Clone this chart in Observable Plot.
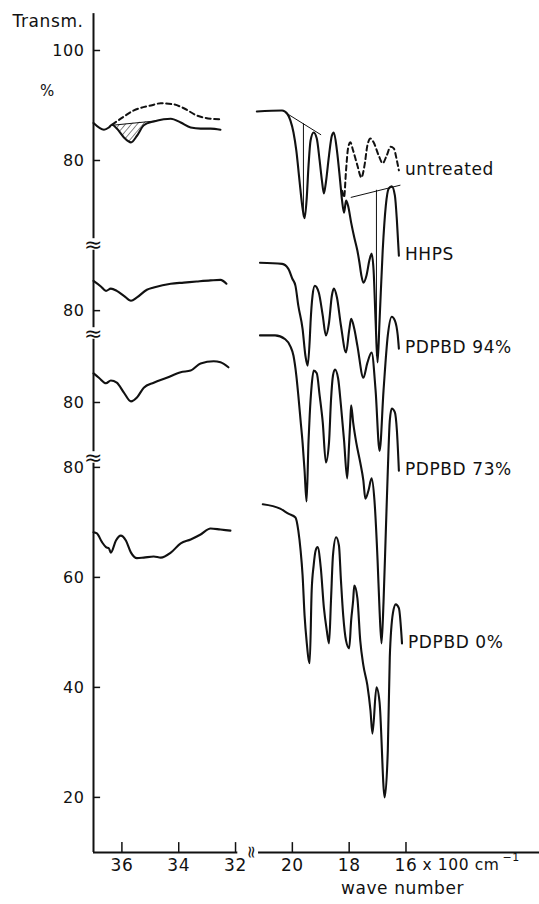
<!DOCTYPE html>
<html>
<head>
<meta charset="utf-8">
<script src="https://cdn.jsdelivr.net/npm/d3@7"></script>
<script src="https://cdn.jsdelivr.net/npm/@observablehq/plot@0.6"></script>
<style>
  body { margin: 0; background: #fff; }
  #chart svg { display: block; }
  #chart text { letter-spacing: 0.6px; }
</style>
</head>
<body>
<div id="chart"></div>
<script>
// ---------- data: [wave number (x100 cm-1), transmission %] ----------
// left panel (3700-3200 cm-1)
const hhpsLeft = [[37.0,86.8],[36.63,85.6],[36.46,86.0],[36.35,86.5],[36.18,85.8],[35.93,84.2],[35.68,83.3],[35.47,84.5],[35.23,86.4],[34.88,87.1],[34.53,87.5],[34.28,87.6],[33.93,86.9],[33.58,86.0],[33.23,85.8],[32.88,85.8],[32.53,85.6]];
const untreatedLeft = [[36.35,86.5],[36.04,87.6],[35.58,89.1],[34.98,90.0],[34.63,90.4],[34.18,90.2],[33.82,89.5],[33.37,88.2],[32.88,87.6],[32.49,87.5]];
const pd94Left = [[37.0,85.4],[36.74,84.4],[36.56,83.6],[36.39,84.0],[36.18,83.6],[35.93,82.7],[35.68,81.8],[35.47,82.4],[35.12,83.8],[34.88,84.2],[34.28,84.9],[33.82,85.1],[33.37,85.3],[32.88,85.5],[32.53,85.6],[32.32,84.9]];
const pd73Left = [[37.0,85.3],[36.81,84.5],[36.56,83.5],[36.39,84.0],[36.18,83.6],[35.93,81.8],[35.68,80.2],[35.47,80.9],[35.23,82.7],[34.88,83.6],[34.42,84.5],[33.93,85.5],[33.58,85.8],[33.23,87.1],[32.77,87.5],[32.53,87.3],[32.25,86.4]];
const pd0Left = [[37.0,68.2],[36.88,68.0],[36.7,66.4],[36.56,65.5],[36.46,65.3],[36.39,64.5],[36.21,66.7],[36.04,67.6],[35.86,66.7],[35.68,64.5],[35.47,63.5],[35.23,63.6],[34.88,63.8],[34.63,63.6],[34.28,64.5],[33.93,66.2],[33.58,66.9],[33.23,67.8],[32.88,68.9],[32.53,68.7],[32.18,68.5]];
// hatched band (wave number, curve value, baseline value)
const hatchBand = [[36.35,86.5,86.5],[36.18,85.8,86.5],[35.93,84.2,86.6],[35.68,83.3,86.7],[35.47,84.5,86.9],[35.23,86.4,87.0],[34.95,87.05,87.05]];
const hatchBaseline = [[36.35,86.4],[34.8,87.2]];

// right panel (2100-1600 cm-1)
const hhpsRight = [[21.25,88.9],[20.36,89.1],[20.18,88.5],[20.07,87.3],[19.96,85.1],[19.86,81.8],[19.75,76.4],[19.64,71.3],[19.57,69.5],[19.5,72.7],[19.43,79.1],[19.36,83.6],[19.25,85.1],[19.14,84.0],[19.04,80.0],[18.96,76.4],[18.89,74.0],[18.82,76.0],[18.71,80.9],[18.61,84.5],[18.54,85.1],[18.43,81.8],[18.32,76.4],[18.25,72.7],[18.18,70.5],[18.11,72.7],[18.04,71.8],[17.93,68.7],[17.82,66.0],[17.71,63.6],[17.64,61.5],[17.57,59.1],[17.5,57.8],[17.39,59.1],[17.29,61.8],[17.21,63.1],[17.14,60.0],[17.07,50.9],[17.0,43.3],[16.93,50.9],[16.82,63.6],[16.71,71.8],[16.61,74.9],[16.5,75.3],[16.39,73.6],[16.32,69.1],[16.25,62.7]];
const untreatedRight = [[18.25,74.5],[18.18,73.3],[18.11,78.2],[18.04,82.2],[17.96,83.3],[17.86,81.8],[17.71,79.1],[17.57,76.9],[17.46,79.1],[17.36,82.7],[17.25,84.0],[17.14,83.3],[16.96,80.9],[16.82,79.5],[16.68,80.9],[16.54,82.5],[16.43,82.2],[16.32,80.0],[16.25,78.2]];
const pd94Right = [[21.14,88.7],[20.36,88.5],[20.14,87.6],[20.0,85.8],[19.89,84.5],[19.79,80.9],[19.64,76.7],[19.54,71.8],[19.46,70.0],[19.39,74.5],[19.36,77.8],[19.29,82.7],[19.21,84.5],[19.07,83.3],[18.93,79.1],[18.82,75.5],[18.71,77.8],[18.61,82.7],[18.54,84.0],[18.43,82.4],[18.29,77.3],[18.11,72.4],[18.0,76.4],[17.93,78.5],[17.82,76.7],[17.71,73.6],[17.5,67.8],[17.36,70.5],[17.21,72.4],[17.07,65.5],[16.93,54.5],[16.79,65.5],[16.64,75.5],[16.5,78.9],[16.39,78.2],[16.29,75.5],[16.25,73.1]];
const pd73Right = [[21.14,92.2],[20.61,92.2],[20.25,91.5],[20.07,90.2],[19.96,88.5],[19.86,84.9],[19.79,81.3],[19.71,76.7],[19.64,72.7],[19.57,67.6],[19.5,62.0],[19.43,73.1],[19.39,77.6],[19.32,83.1],[19.25,85.8],[19.14,85.3],[19.04,81.3],[18.93,76.4],[18.82,69.1],[18.71,72.7],[18.64,80.4],[18.57,84.9],[18.5,86.0],[18.39,84.4],[18.29,79.5],[18.18,73.1],[18.07,66.2],[18.0,72.7],[17.96,76.7],[17.93,79.5],[17.86,76.4],[17.75,72.7],[17.61,69.1],[17.5,65.8],[17.43,62.5],[17.32,64.0],[17.21,66.2],[17.11,62.2],[17.0,51.3],[16.93,42.2],[16.86,36.2],[16.79,43.8],[16.71,56.5],[16.64,67.6],[16.57,76.7],[16.5,78.9],[16.39,78.2],[16.32,74.9],[16.25,67.6]];
const pd0Right = [[21.04,73.3],[20.43,72.5],[20.14,71.6],[19.89,70.9],[19.79,68.5],[19.71,64.9],[19.64,60.4],[19.57,53.1],[19.5,48.5],[19.39,44.4],[19.32,57.6],[19.25,62.2],[19.18,64.9],[19.11,65.5],[19.0,61.8],[18.89,54.5],[18.79,50.4],[18.71,48.0],[18.64,55.8],[18.57,64.0],[18.46,67.3],[18.36,65.8],[18.29,59.5],[18.21,53.1],[18.11,48.5],[18.0,47.1],[17.93,52.2],[17.86,55.8],[17.82,58.5],[17.71,56.2],[17.61,48.5],[17.5,44.0],[17.36,40.4],[17.25,35.8],[17.18,31.6],[17.04,40.0],[16.93,37.3],[16.75,20.0],[16.64,28.5],[16.57,45.5],[16.46,53.5],[16.36,55.1],[16.25,54.4],[16.14,48.0]];
// baseline construction lines on the untreated / HHPS spectrum
const baseLine1 = [[20.18,88.5],[19.0,84.7]];
const dropLine1 = [[19.61,86.7],[19.61,69.8]];
const baseLine2 = [[17.93,73.3],[16.21,75.5]];
const dropLine2 = [[17.04,74.6],[17.04,44.5]];

// spectrum names and the y-axis section each one is drawn in
const spectrumNames = ["untreated", "HHPS", "PDPBD 94%", "PDPBD 73%", "PDPBD 0%"];
const spectrumSection = [0, 0, 1, 2, 3];
const sectionOffset = [0, -27.3, -44.0, -55.8];   // stacked sections (break in axis)

// axis ticks
const yTickValues = [100, 80, 80, 80, 80, 60, 40, 20];
const yTickSection = [0, 0, 1, 2, 3, 3, 3, 3];
const xTickValues = [36, 34, 32, 20, 18, 16];
const yBreaks = [64.73, 48.55, 26.0];   // display positions of axis breaks
const leftAxisRange = [37.0, 31.92];
const rightAxisRange = [21.19, 10.0];

// ---------- build ----------
const toU = w => (w > 26 ? 37 - w : 27 - w);   // broken wave-number axis
const yMin = -45.82, yMax = 109.09, xMax = 15.7;
const clampU = u => Math.min(u, xMax);

function rows(pts, id, sec) {
  return pts.map(([w, t]) => ({id, u: toU(w), t: t + sectionOffset[sec]}));
}
const solidRows = [
  ...rows(hhpsLeft, "hL", 0), ...rows(hhpsRight, "hR", 0),
  ...rows(pd94Left, "94L", 1), ...rows(pd94Right, "94R", 1),
  ...rows(pd73Left, "73L", 2), ...rows(pd73Right, "73R", 2),
  ...rows(pd0Left, "0L", 3), ...rows(pd0Right, "0R", 3)
];
const dashRows = [...rows(untreatedLeft, "uL", 0), ...rows(untreatedRight, "uR", 0)];
const annoRows = [
  ...rows(hatchBaseline, "b0", 0), ...rows(baseLine1, "b1", 0), ...rows(dropLine1, "d1", 0),
  ...rows(baseLine2, "b2", 0), ...rows(dropLine2, "d2", 0)
];
const hatchRows = hatchBand.map(([w, lo, hi]) => ({u: toU(w), low: lo, top: hi}));

const rightEnds = [untreatedRight, hhpsRight, pd94Right, pd73Right, pd0Right];
const labelRows = spectrumNames.map((name, i) => {
  const [w, t] = rightEnds[i][rightEnds[i].length - 1];
  return {name, u: toU(w), t: t + sectionOffset[spectrumSection[i]]};
});

const yTickRows = yTickValues.map((v, i) => ({t: v + sectionOffset[yTickSection[i]], label: String(v)}));
const xTickRows = xTickValues.map(w => ({u: toU(w), label: String(w)}));

const axisTop = 106.7, gap = 1.05;
const yStops = [axisTop, ...yBreaks.flatMap(b => [b + gap, b - gap]), yMin];
const ySegRows = [];
for (let i = 0; i < yStops.length; i += 2) ySegRows.push({a: yStops[i], b: yStops[i + 1]});
const xSegRows = [
  {a: toU(leftAxisRange[0]), b: toU(leftAxisRange[1])},
  {a: toU(rightAxisRange[0]), b: clampU(toU(rightAxisRange[1]))}
];
const xBreakU = (toU(leftAxisRange[1]) + toU(rightAxisRange[0])) / 2 + 0.12;

const ink = "#111";
const plot = Plot.plot({
  width: 539,
  height: 904,
  marginLeft: 93,
  marginRight: 0,
  marginTop: 0,
  marginBottom: 52,
  x: {domain: [0, xMax], axis: null},
  y: {domain: [yMin, yMax], axis: null},
  style: {fontFamily: "DejaVu Sans", background: "white", color: ink},
  marks: [
    Plot.areaY(hatchRows, {x: "u", y1: "low", y2: "top", fill: "url(#hatch)", curve: "monotone-x"}),
    Plot.line(annoRows, {x: "u", y: "t", z: "id", stroke: ink, strokeWidth: 1, curve: "linear"}),
    Plot.line(dashRows, {x: "u", y: "t", z: "id", stroke: ink, strokeWidth: 2, strokeDasharray: "5,3.5", curve: "monotone-x"}),
    Plot.line(solidRows, {x: "u", y: "t", z: "id", stroke: ink, strokeWidth: 2.1, curve: "monotone-x", strokeLinejoin: "round"}),
    // y axis
    Plot.ruleX(ySegRows, {x: () => 0, y1: "a", y2: "b", stroke: ink, strokeWidth: 2}),
    Plot.ruleY(yTickRows, {y: "t", x1: () => 0, x2: () => 0.25, stroke: ink, strokeWidth: 1.5}),
    Plot.text(yTickRows, {x: () => 0, y: "t", text: "label", textAnchor: "end", dx: -9, fontSize: 16, fill: ink}),
    Plot.text(yBreaks, {x: () => 0, y: d => d, text: () => "≈", fontSize: 22, fill: ink}),
    // x axis
    Plot.ruleY(xSegRows, {y: () => yMin, x1: "a", x2: "b", stroke: ink, strokeWidth: 2}),
    Plot.ruleX(xTickRows, {x: "u", y1: () => yMin, y2: () => yMin + 1.8, stroke: ink, strokeWidth: 1.5}),
    Plot.text(xTickRows, {x: "u", y: () => yMin, text: "label", dy: 13, fontSize: 17, fill: ink}),
    Plot.text([xBreakU], {x: d => d, y: () => yMin, text: () => "≈", rotate: 90, fontSize: 17, fill: ink}),
    // spectrum labels
    Plot.text(labelRows, {x: "u", y: "t", text: "name", textAnchor: "start", dx: 6, dy: -1, fontSize: 17, fill: ink}),
    // titles
    Plot.text(["Transm."], {frameAnchor: "top-left", text: d => d, textAnchor: "start", lineAnchor: "middle", dx: -81, dy: 21, fontSize: 17, fill: ink}),
    Plot.text(["%"], {frameAnchor: "top-left", text: d => d, textAnchor: "middle", lineAnchor: "middle", dx: -46, dy: 91, fontSize: 15, fill: ink}),
    Plot.text(["x 100 cm"], {frameAnchor: "bottom-left", text: d => d, textAnchor: "start", lineAnchor: "middle", dx: 329, dy: 13, fontSize: 15.5, fill: ink}),
    Plot.text(["−1"], {frameAnchor: "bottom-left", text: d => d, textAnchor: "start", lineAnchor: "middle", dx: 409, dy: 5, fontSize: 11, fill: ink}),
    Plot.text(["wave number"], {frameAnchor: "bottom-left", text: d => d, textAnchor: "middle", lineAnchor: "middle", dx: 309, dy: 36, fontSize: 17, fill: ink})
  ]
});

d3.select(plot).insert("defs", ":first-child").html(
  '<pattern id="hatch" patternUnits="userSpaceOnUse" width="4.5" height="4.5" patternTransform="rotate(40)">' +
  '<line x1="0" y1="0" x2="0" y2="4.5" stroke="#111" stroke-width="1"/></pattern>'
);
document.getElementById("chart").appendChild(plot);
</script>
</body>
</html>
